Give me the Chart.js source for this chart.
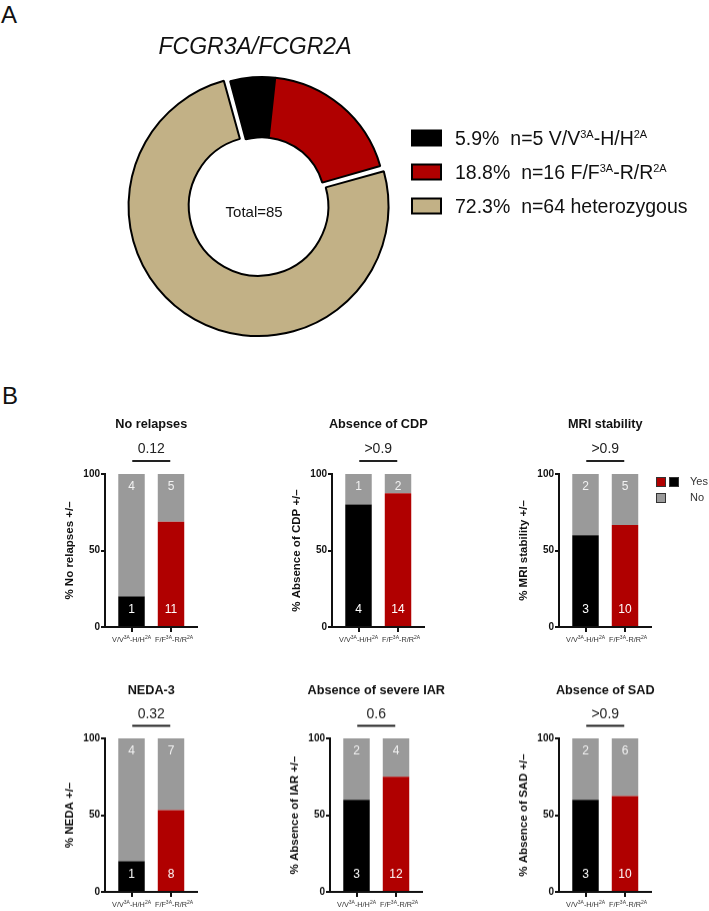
<!DOCTYPE html>
<html>
<head>
<meta charset="utf-8">
<script src="https://cdn.jsdelivr.net/npm/chart.js@4"></script>
<style>
html,body{margin:0;padding:0;background:#fff;}
body{width:709px;height:911px;position:relative;overflow:hidden;font-family:"Liberation Sans",Arial,Helvetica,sans-serif;}
canvas{position:absolute;}
.plabel{position:absolute;font-size:24px;line-height:24px;color:#111;}
</style>
</head>
<body>
<div class="plabel" style="left:1px;top:3px;">A</div>
<div class="plabel" style="left:2px;top:384px;">B</div>
<canvas id="donut" width="709" height="370" style="left:0;top:0;width:709px;height:370px;"></canvas>
<script>
// ---------- DATA ----------
const genotypeCounts = [5, 16, 64];
const genotypePercents = ['5.9%', '18.8%', '72.3%'];
const genotypeLabels = [
  [['n=5 V/V', 0], ['3A', 1], ['-H/H', 0], ['2A', 1]],
  [['n=16 F/F', 0], ['3A', 1], ['-R/R', 0], ['2A', 1]],
  [['n=64 heterozygous', 0]]
];
const genotypeColors = ['#000000', '#b00000', '#c2b186'];
const donutTitle = 'FCGR3A/FCGR2A';
const totalLabel = 'Total=85';

const outcomeTitles = ['No relapses', 'Absence of CDP', 'MRI stability', 'NEDA-3', 'Absence of severe IAR', 'Absence of SAD'];
const axisTitles = ['% No relapses +/\u2013', '% Absence of CDP +/\u2013', '% MRI stability +/\u2013', '% NEDA +/\u2013', '% Absence of IAR +/\u2013', '% Absence of SAD +/\u2013'];
const pValues = ['0.12', '>0.9', '>0.9', '0.32', '0.6', '>0.9'];
const yesVV = [1, 4, 3, 1, 3, 3];
const noVV  = [4, 1, 2, 4, 2, 2];
const yesFF = [11, 14, 10, 8, 12, 10];
const noFF  = [5, 2, 5, 7, 4, 6];
const groupTickLabels = [
  [['V/V', 0], ['3A', 1], ['-H/H', 0], ['2A', 1]],
  [['F/F', 0], ['3A', 1], ['-R/R', 0], ['2A', 1]]
];
const yTicks = [0, 50, 100];
const legendLabels = ['Yes', 'No'];

// ---------- LAYOUT ----------
const FONT = '"Liberation Sans", Arial, Helvetica, sans-serif';
Chart.defaults.font.family = FONT;
Chart.defaults.color = '#111';
const panels = [
  {axisX: 105, y100: 473.5, y0: 627, row: 0},
  {axisX: 332, y100: 473.5, y0: 627, row: 0},
  {axisX: 559, y100: 473.5, y0: 627, row: 0, legend: true},
  {axisX: 105, y100: 738, y0: 891.5, row: 1},
  {axisX: 330, y100: 738, y0: 891.5, row: 1},
  {axisX: 559, y100: 738, y0: 891.5, row: 1}
];
const rowOffsets = [{title: -50, p: -25, line: -13}, {title: -48, p: -24, line: -12.5}];

function drawRich(ctx, parts, x, y, size, supSize, rise, align, weight) {
  const w = weight ? weight + ' ' : '';
  let total = 0;
  const widths = parts.map(([t, s]) => {
    ctx.font = w + (s ? supSize : size) + 'px ' + FONT;
    const m = ctx.measureText(t).width;
    total += m;
    return m;
  });
  let cx = align === 'center' ? x - total / 2 : (align === 'right' ? x - total : x);
  ctx.textAlign = 'left';
  ctx.textBaseline = 'alphabetic';
  parts.forEach(([t, s], k) => {
    ctx.font = w + (s ? supSize : size) + 'px ' + FONT;
    ctx.fillText(t, cx, s ? y - rise : y);
    cx += widths[k];
  });
}

// ---------- DONUT ----------
const donutDecor = {
  id: 'donutDecor',
  afterDraw(chart) {
    const ctx = chart.ctx;
    ctx.save();
    ctx.fillStyle = '#111';
    ctx.font = 'italic 23px ' + FONT;
    ctx.textAlign = 'center';
    ctx.textBaseline = 'alphabetic';
    ctx.fillText(donutTitle, 255, 54);
    const ds = chart.data.datasets[0];
    const el = chart.getDatasetMeta(0).data[2];
    const shift = ds.offset[2] / 2; // Chart.js translates large arcs by offset/2
    const mid = (el.startAngle + el.endAngle) / 2;
    const cx = el.x + Math.cos(mid) * shift, cy = el.y + Math.sin(mid) * shift;
    ctx.font = '15px ' + FONT;
    ctx.textBaseline = 'middle';
    ctx.fillText(totalLabel, cx - 1, cy + 1);
    genotypeCounts.forEach((_, i) => {
      const yc = 138 + i * 34;
      ctx.fillStyle = genotypeColors[i];
      ctx.fillRect(412, yc - 7.5, 29, 15);
      ctx.lineWidth = 2;
      ctx.strokeStyle = '#000';
      ctx.strokeRect(412, yc - 7.5, 29, 15);
      ctx.fillStyle = '#111';
      drawRich(ctx, [[genotypePercents[i] + '  ', 0], ...genotypeLabels[i]], 455, yc + 7, 19.5, 11, 7.5, 'left');
    });
    ctx.restore();
  }
};

new Chart(document.getElementById('donut'), {
  type: 'doughnut',
  data: {
    labels: genotypePercents,
    datasets: [{
      data: genotypeCounts,
      backgroundColor: genotypeColors,
      borderColor: '#000',
      borderWidth: 2,
      offset: [0, 0, 28]
    }]
  },
  options: {
    responsive: false,
    animation: false,
    devicePixelRatio: 1,
    rotation: -15,
    radius: 123,
    cutout: '51%',
    layout: {padding: {left: 0, right: 185, top: 30, bottom: 0}},
    plugins: {legend: {display: false}, tooltip: {enabled: false}}
  },
  plugins: [donutDecor]
});

// ---------- BAR CHARTS ----------
const barDecor = {
  id: 'barDecor',
  afterDatasetsDraw(chart) {
    const ctx = chart.ctx;
    const ys = chart.scales.y;
    ctx.save();
    ctx.font = '12px ' + FONT;
    ctx.textAlign = 'center';
    ctx.textBaseline = 'middle';
    chart.data.datasets.forEach((ds, d) => {
      chart.getDatasetMeta(d).data.forEach((el, k) => {
        ctx.fillStyle = d === 0 ? '#ffffff' : '#f2f2f2';
        const y = d === 0 ? ys.getPixelForValue(0) - 17 : ys.getPixelForValue(100) + 13;
        ctx.fillText(String(ds.counts[k]), el.x, y);
      });
    });
    ctx.restore();
  },
  afterDraw(chart, args, opts) {
    const i = opts.index;
    const p = panels[i];
    const ro = rowOffsets[p.row];
    const ctx = chart.ctx;
    const xs = chart.scales.x;
    const top = chart.chartArea.top;
    const x0 = xs.getPixelForValue(0), x1 = xs.getPixelForValue(1);
    const mid = (x0 + x1) / 2;
    ctx.save();
    ctx.fillStyle = '#111';
    ctx.textAlign = 'center';
    ctx.textBaseline = 'middle';
    ctx.font = 'bold 12.7px ' + FONT;
    ctx.fillText(outcomeTitles[i], mid, top + ro.title);
    ctx.font = '14px ' + FONT;
    ctx.fillStyle = '#222';
    ctx.fillText(pValues[i], mid, top + ro.p);
    ctx.strokeStyle = '#222';
    ctx.lineWidth = 2;
    ctx.beginPath();
    ctx.moveTo(mid - 19, top + ro.line);
    ctx.lineTo(mid + 19, top + ro.line);
    ctx.stroke();
    ctx.fillStyle = '#333';
    [x0, x1 + 3].forEach((x, k) => {
      drawRich(ctx, groupTickLabels[k], x, chart.chartArea.bottom + 14.5, 7.3, 5, 3, 'center');
    });
    if (p.legend) {
      const lx = chart.chartArea.left + 97;
      ctx.lineWidth = 1;
      ctx.strokeStyle = '#333';
      const sq = [[lx, top + 3, '#b00000'], [lx + 13, top + 3, '#000000'], [lx, top + 19, '#9a9a9a']];
      sq.forEach(([x, y, c]) => {
        ctx.fillStyle = c;
        ctx.fillRect(x, y, 10, 10);
        ctx.strokeRect(x + 0.5, y + 0.5, 9, 9);
      });
      ctx.fillStyle = '#333';
      ctx.font = '11px ' + FONT;
      ctx.textAlign = 'left';
      ctx.textBaseline = 'middle';
      ctx.fillText(legendLabels[0], lx + 34, top + 8);
      ctx.fillText(legendLabels[1], lx + 34, top + 24);
    }
    ctx.restore();
  }
};

function makeBar(i) {
  const p = panels[i];
  const L = 80, T = 90, B = 30, plotW = 92;
  const extra = p.legend ? 60 : 0;
  const W = L + plotW + 40 + extra;
  const H = T + (p.y0 - p.y100) + B;
  const cv = document.createElement('canvas');
  cv.width = W; cv.height = H;
  cv.style.width = W + 'px'; cv.style.height = H + 'px';
  cv.style.left = (p.axisX - L) + 'px';
  cv.style.top = (p.y100 - T) + 'px';
  document.body.appendChild(cv);
  const totVV = yesVV[i] + noVV[i], totFF = yesFF[i] + noFF[i];
  new Chart(cv, {
    type: 'bar',
    data: {
      datasets: [
        {label: legendLabels[0], data: [{x: 0, y: yesVV[i] / totVV * 100}, {x: 1, y: yesFF[i] / totFF * 100}],
         counts: [yesVV[i], yesFF[i]], backgroundColor: ['#000000', '#b00000'], borderWidth: 0},
        {label: legendLabels[1], data: [{x: 0, y: noVV[i] / totVV * 100}, {x: 1, y: noFF[i] / totFF * 100}],
         counts: [noVV[i], noFF[i]], backgroundColor: '#9a9a9a', borderWidth: 0}
      ]
    },
    options: {
      responsive: false,
      animation: false,
      devicePixelRatio: 1,
      layout: {padding: {left: L - 46, top: T, right: W - L - plotW, bottom: B - 20}},
      datasets: {bar: {barPercentage: 0.67, categoryPercentage: 1}},
      plugins: {legend: {display: false}, tooltip: {enabled: false}, barDecor: {index: i}},
      scales: {
        x: {
          type: 'linear', stacked: true, min: -0.671, max: 1.658, offset: false,
          afterBuildTicks: s => { s.ticks = [{value: 0}, {value: 1}]; },
          afterFit: s => { s.height = 20; },
          ticks: {callback: () => ''},
          grid: {offset: false, drawOnChartArea: false, tickLength: 5, lineWidth: 2, color: '#111'},
          border: {color: '#111', width: 2}
        },
        y: {
          stacked: true, min: 0, max: 100,
          afterBuildTicks: s => { s.ticks = yTicks.map(v => ({value: v})); },
          afterFit: s => { s.width = 46; },
          ticks: {font: {size: 10, weight: 'bold'}, color: '#111', padding: 1},
          grid: {drawOnChartArea: false, tickLength: 4, lineWidth: 2, color: '#111'},
          border: {color: '#111', width: 2},
          title: {display: true, text: axisTitles[i], font: {size: 11.5, weight: 'bold'}, color: '#111', padding: {top: 4, bottom: 4}}
        }
      }
    },
    plugins: [barDecor]
  });
}
panels.forEach((_, i) => makeBar(i));
</script>
</body>
</html>
